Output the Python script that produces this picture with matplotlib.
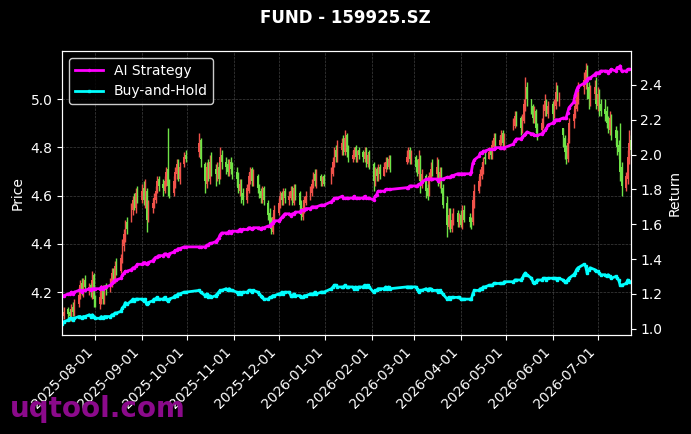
import pandas as pd
import numpy as np
import matplotlib
matplotlib.use('Agg')
import matplotlib.pyplot as plt
import matplotlib.dates as mdates

# trading days (China market holidays removed)
holidays = ['2025-10-01', '2025-10-02', '2025-10-03', '2025-10-06', '2025-10-07', '2025-10-08',
            '2026-01-01', '2026-01-02', '2026-02-16', '2026-02-17', '2026-02-18', '2026-02-19',
            '2026-02-20', '2026-02-23', '2026-04-06', '2026-05-01', '2026-05-04', '2026-05-05',
            '2026-06-19']
dias = pd.bdate_range('2025-07-10', '2026-07-23')
dias = dias[~dias.isin(pd.to_datetime(holidays))]

abertura = [
    4.13, 4.10, 4.13, 4.12, 4.09, 4.14, 4.11, 4.15, 4.18, 4.24, 4.20, 4.25, 4.21, 4.23, 4.19, 4.27,
    4.18, 4.15, 4.17, 4.22, 4.16, 4.23, 4.21, 4.23, 4.29, 4.25, 4.32, 4.29, 4.33, 4.39, 4.43, 4.49, 4.50, 4.54, 4.59, 4.55, 4.62,
    4.58, 4.63, 4.57, 4.62, 4.51, 4.55, 4.58, 4.58, 4.62, 4.67, 4.65, 4.62, 4.66, 4.71, 4.65, 4.61, 4.65, 4.69, 4.74, 4.67, 4.73, 4.77,
    4.78, 4.83, 4.73, 4.65, 4.73, 4.67, 4.75, 4.71, 4.68, 4.72, 4.68, 4.77, 4.74, 4.73, 4.69, 4.74, 4.72,
    4.70, 4.68, 4.62, 4.66, 4.61, 4.58, 4.62, 4.67, 4.71, 4.65, 4.68, 4.64, 4.62, 4.58, 4.63, 4.57, 4.53, 4.49, 4.45, 4.50,
    4.53, 4.56, 4.61, 4.57, 4.62, 4.58, 4.59, 4.63, 4.57, 4.64, 4.61, 4.57, 4.51, 4.54, 4.57, 4.59, 4.61, 4.64, 4.69, 4.65, 4.68, 4.65, 4.68,
    4.66, 4.69, 4.73, 4.79, 4.75, 4.79, 4.83, 4.78, 4.85, 4.79, 4.75, 4.76, 4.80, 4.75, 4.79, 4.78, 4.75, 4.79, 4.73, 4.78,
    4.73, 4.65, 4.71, 4.67, 4.72, 4.68, 4.71, 4.75, 4.72, 4.76, 4.74, 4.75, 4.79, 4.74,
    4.76, 4.73, 4.69, 4.76, 4.65, 4.68, 4.63, 4.61, 4.67, 4.72, 4.69, 4.73, 4.65, 4.71, 4.63, 4.57, 4.47, 4.53, 4.46, 4.49, 4.53, 4.48,
    4.52, 4.47, 4.54, 4.51, 4.50, 4.49, 4.57, 4.62, 4.65, 4.68, 4.71, 4.76, 4.75, 4.79, 4.76, 4.80, 4.85, 4.81, 4.82, 4.86, 4.81,
    4.88, 4.89, 4.94, 4.92, 4.87, 4.91, 4.97, 5.05, 5.00, 4.97, 4.91, 4.95, 4.89, 4.87, 4.89, 4.95, 4.99, 4.94,
    4.98, 4.93, 4.97, 5.04, 5.00, 4.88, 4.84, 4.79, 4.75, 4.83, 4.91, 4.93, 4.96, 5.03, 5.05, 5.07, 5.13, 5.05, 4.99, 5.02, 5.06,
    4.97, 5.03, 4.98, 4.96, 4.95, 4.91, 4.87, 4.93, 4.87, 4.85, 4.81, 4.79, 4.72, 4.63, 4.67, 4.75, 4.83]

maxima = [
    4.14, 4.14, 4.14, 4.13, 4.15, 4.16, 4.17, 4.22, 4.25, 4.26, 4.26, 4.27, 4.24, 4.24, 4.29, 4.28,
    4.19, 4.20, 4.23, 4.23, 4.23, 4.24, 4.26, 4.30, 4.30, 4.33, 4.34, 4.36, 4.42, 4.46, 4.50, 4.51, 4.57, 4.60, 4.61, 4.63, 4.64,
    4.65, 4.66, 4.67, 4.63, 4.58, 4.59, 4.61, 4.64, 4.68, 4.68, 4.67, 4.68, 4.72, 4.88, 4.67, 4.68, 4.72, 4.75, 4.75, 4.74, 4.78, 4.79,
    4.86, 4.84, 4.74, 4.74, 4.75, 4.77, 4.78, 4.73, 4.74, 4.74, 4.80, 4.79, 4.76, 4.75, 4.75, 4.76, 4.74,
    4.72, 4.70, 4.67, 4.67, 4.63, 4.65, 4.70, 4.72, 4.72, 4.71, 4.69, 4.65, 4.63, 4.64, 4.64, 4.58, 4.55, 4.51, 4.53, 4.56,
    4.59, 4.62, 4.62, 4.63, 4.63, 4.62, 4.64, 4.64, 4.65, 4.65, 4.62, 4.58, 4.56, 4.60, 4.62, 4.64, 4.67, 4.70, 4.71, 4.71, 4.69, 4.68, 4.69,
    4.72, 4.76, 4.80, 4.81, 4.83, 4.84, 4.85, 4.87, 4.86, 4.81, 4.79, 4.80, 4.81, 4.79, 4.80, 4.79, 4.80, 4.80, 4.78, 4.79,
    4.74, 4.72, 4.72, 4.73, 4.73, 4.74, 4.76, 4.76, 4.77, 4.77, 4.79, 4.80, 4.80, 4.79,
    4.77, 4.75, 4.79, 4.77, 4.71, 4.69, 4.65, 4.70, 4.74, 4.75, 4.76, 4.75, 4.72, 4.72, 4.65, 4.60, 4.55, 4.55, 4.53, 4.55, 4.54, 4.53,
    4.54, 4.56, 4.56, 4.53, 4.51, 4.60, 4.65, 4.68, 4.71, 4.74, 4.76, 4.78, 4.80, 4.80, 4.83, 4.86, 4.86, 4.85, 4.87, 4.87, 4.86,
    4.92, 4.95, 4.95, 4.93, 4.94, 5.00, 5.09, 5.07, 5.00, 4.98, 4.97, 4.96, 4.90, 4.92, 4.98, 5.02, 5.00, 4.99,
    4.99, 5.00, 5.07, 5.06, 5.03, 4.88, 4.85, 4.81, 4.84, 4.92, 4.96, 5.00, 5.05, 5.07, 5.11, 5.15, 5.14, 5.07, 5.06, 5.08, 5.09,
    5.05, 5.04, 5.00, 5.00, 4.97, 4.93, 4.95, 4.94, 4.89, 4.87, 4.83, 4.90, 4.74, 4.70, 4.79, 4.87, 4.85]

minima = [
    4.09, 4.09, 4.09, 4.08, 4.08, 4.10, 4.10, 4.14, 4.17, 4.19, 4.18, 4.20, 4.19, 4.18, 4.17, 4.14,
    4.14, 4.13, 4.15, 4.15, 4.15, 4.19, 4.20, 4.22, 4.24, 4.24, 4.27, 4.28, 4.32, 4.37, 4.41, 4.44, 4.49, 4.52, 4.54, 4.53, 4.57,
    4.57, 4.56, 4.55, 4.45, 4.49, 4.53, 4.55, 4.57, 4.61, 4.62, 4.60, 4.61, 4.64, 4.60, 4.59, 4.60, 4.63, 4.67, 4.66, 4.65, 4.72, 4.74,
    4.76, 4.72, 4.61, 4.63, 4.66, 4.65, 4.68, 4.64, 4.66, 4.65, 4.67, 4.71, 4.69, 4.68, 4.68, 4.69, 4.67,
    4.64, 4.61, 4.60, 4.57, 4.56, 4.57, 4.61, 4.65, 4.64, 4.64, 4.61, 4.59, 4.57, 4.57, 4.56, 4.50, 4.47, 4.44, 4.44, 4.49,
    4.52, 4.55, 4.56, 4.56, 4.57, 4.56, 4.58, 4.56, 4.56, 4.58, 4.54, 4.50, 4.50, 4.53, 4.56, 4.58, 4.60, 4.63, 4.64, 4.63, 4.64, 4.64, 4.64,
    4.65, 4.68, 4.72, 4.74, 4.74, 4.77, 4.77, 4.77, 4.76, 4.74, 4.74, 4.75, 4.74, 4.74, 4.75, 4.74, 4.74, 4.72, 4.72, 4.71,
    4.62, 4.64, 4.66, 4.66, 4.67, 4.68, 4.70, 4.71, 4.71, 4.70, 4.73, 4.74, 4.73, 4.73,
    4.70, 4.68, 4.67, 4.61, 4.63, 4.59, 4.58, 4.60, 4.66, 4.68, 4.67, 4.64, 4.63, 4.61, 4.55, 4.43, 4.46, 4.45, 4.45, 4.48, 4.47, 4.47,
    4.47, 4.46, 4.49, 4.47, 4.46, 4.48, 4.55, 4.61, 4.64, 4.67, 4.69, 4.73, 4.75, 4.75, 4.75, 4.79, 4.80, 4.80, 4.81, 4.80, 4.79,
    4.87, 4.88, 4.89, 4.85, 4.86, 4.90, 4.95, 4.97, 4.94, 4.90, 4.90, 4.86, 4.83, 4.85, 4.88, 4.93, 4.93, 4.92,
    4.91, 4.92, 4.96, 4.99, 4.97, 4.80, 4.75, 4.73, 4.74, 4.82, 4.88, 4.92, 4.95, 4.98, 5.02, 5.04, 5.00, 4.96, 4.97, 5.00, 4.96,
    4.95, 4.93, 4.93, 4.91, 4.88, 4.86, 4.85, 4.83, 4.81, 4.77, 4.75, 4.66, 4.60, 4.62, 4.65, 4.73, 4.77]

fechamento = [
    4.11, 4.12, 4.11, 4.10, 4.13, 4.12, 4.15, 4.19, 4.23, 4.21, 4.24, 4.22, 4.22, 4.20, 4.25, 4.17,
    4.16, 4.18, 4.21, 4.17, 4.22, 4.21, 4.24, 4.28, 4.26, 4.31, 4.29, 4.34, 4.40, 4.44, 4.48, 4.46, 4.55, 4.58, 4.56, 4.61, 4.59,
    4.62, 4.58, 4.63, 4.50, 4.56, 4.57, 4.59, 4.62, 4.66, 4.64, 4.63, 4.66, 4.70, 4.64, 4.62, 4.66, 4.70, 4.73, 4.68, 4.72, 4.76, 4.75,
    4.82, 4.75, 4.66, 4.72, 4.68, 4.74, 4.70, 4.69, 4.71, 4.67, 4.76, 4.74, 4.72, 4.70, 4.73, 4.71, 4.69,
    4.67, 4.63, 4.65, 4.60, 4.58, 4.63, 4.68, 4.70, 4.66, 4.69, 4.63, 4.61, 4.59, 4.62, 4.58, 4.52, 4.48, 4.46, 4.51, 4.54,
    4.57, 4.60, 4.58, 4.61, 4.59, 4.60, 4.62, 4.58, 4.63, 4.60, 4.56, 4.52, 4.55, 4.58, 4.60, 4.62, 4.65, 4.68, 4.66, 4.69, 4.66, 4.67, 4.65,
    4.70, 4.74, 4.78, 4.76, 4.80, 4.82, 4.79, 4.84, 4.78, 4.76, 4.77, 4.79, 4.76, 4.78, 4.77, 4.76, 4.78, 4.74, 4.77, 4.75,
    4.66, 4.70, 4.68, 4.71, 4.69, 4.72, 4.74, 4.73, 4.75, 4.72, 4.76, 4.78, 4.75, 4.77,
    4.72, 4.70, 4.75, 4.66, 4.69, 4.62, 4.60, 4.68, 4.71, 4.70, 4.72, 4.66, 4.70, 4.64, 4.56, 4.48, 4.52, 4.47, 4.50, 4.52, 4.49, 4.51,
    4.48, 4.53, 4.50, 4.49, 4.48, 4.58, 4.62, 4.66, 4.69, 4.72, 4.74, 4.75, 4.78, 4.77, 4.81, 4.84, 4.82, 4.83, 4.85, 4.82, 4.84,
    4.90, 4.93, 4.91, 4.88, 4.92, 4.98, 5.04, 5.00, 4.96, 4.92, 4.95, 4.88, 4.86, 4.90, 4.96, 4.99, 4.95, 4.97,
    4.94, 4.98, 5.03, 5.01, 5.00, 4.85, 4.78, 4.76, 4.82, 4.90, 4.94, 4.97, 5.02, 5.04, 5.08, 5.12, 5.04, 5.00, 5.03, 5.05, 4.98,
    5.02, 4.97, 4.95, 4.94, 4.90, 4.88, 4.92, 4.86, 4.84, 4.80, 4.78, 4.70, 4.64, 4.68, 4.76, 4.82, 4.79]

ai_strategy = [
    1.19, 1.19, 1.20, 1.20, 1.21, 1.20, 1.21, 1.22, 1.22, 1.21, 1.22, 1.22, 1.23, 1.22, 1.23, 1.23,
    1.23, 1.23, 1.24, 1.23, 1.24, 1.24, 1.25, 1.26, 1.27, 1.28, 1.28, 1.29, 1.31, 1.32, 1.33, 1.33, 1.34, 1.35, 1.35, 1.36, 1.37,
    1.37, 1.38, 1.38, 1.37, 1.38, 1.39, 1.40, 1.41, 1.41, 1.42, 1.42, 1.43, 1.43, 1.42, 1.43, 1.44, 1.45, 1.45, 1.46, 1.46, 1.47, 1.47,
    1.47, 1.47, 1.47, 1.48, 1.48, 1.49, 1.49, 1.50, 1.51, 1.52, 1.54, 1.55, 1.55, 1.55, 1.56, 1.55, 1.56,
    1.56, 1.56, 1.57, 1.56, 1.57, 1.57, 1.58, 1.58, 1.57, 1.58, 1.58, 1.58, 1.57, 1.58, 1.58, 1.59, 1.59, 1.60, 1.61, 1.62,
    1.62, 1.63, 1.64, 1.65, 1.66, 1.66, 1.65, 1.66, 1.66, 1.67, 1.67, 1.68, 1.68, 1.68, 1.69, 1.69, 1.70, 1.70, 1.70, 1.70, 1.71, 1.71, 1.71,
    1.73, 1.74, 1.75, 1.75, 1.75, 1.76, 1.75, 1.75, 1.75, 1.75, 1.75, 1.76, 1.75, 1.75, 1.75, 1.75, 1.76, 1.75, 1.75, 1.75,
    1.74, 1.76, 1.77, 1.79, 1.79, 1.79, 1.80, 1.80, 1.80, 1.80, 1.81, 1.81, 1.82, 1.82,
    1.82, 1.82, 1.83, 1.83, 1.84, 1.86, 1.86, 1.86, 1.86, 1.86, 1.86, 1.85, 1.86, 1.86, 1.86, 1.87, 1.87, 1.87, 1.88, 1.88, 1.89, 1.89,
    1.89, 1.89, 1.89, 1.89, 1.90, 1.95, 1.97, 1.99, 2.01, 2.01, 2.02, 2.02, 2.03, 2.03, 2.03, 2.03, 2.04, 2.04, 2.04, 2.04, 2.04,
    2.06, 2.08, 2.09, 2.09, 2.10, 2.11, 2.12, 2.13, 2.12, 2.12, 2.11, 2.11, 2.11, 2.12, 2.13, 2.14, 2.15, 2.17,
    2.18, 2.19, 2.20, 2.20, 2.20, 2.21, 2.21, 2.21, 2.24, 2.27, 2.30, 2.34, 2.37, 2.39, 2.41, 2.42, 2.43, 2.44, 2.44, 2.46, 2.47,
    2.47, 2.47, 2.48, 2.48, 2.48, 2.47, 2.48, 2.49, 2.48, 2.50, 2.50, 2.51, 2.48, 2.48, 2.49, 2.49, 2.49]

buy_hold = [
    1.03, 1.04, 1.05, 1.06, 1.06, 1.05, 1.06, 1.07, 1.07, 1.06, 1.07, 1.07, 1.08, 1.07, 1.08, 1.07,
    1.06, 1.06, 1.07, 1.06, 1.07, 1.07, 1.07, 1.08, 1.08, 1.09, 1.09, 1.10, 1.12, 1.13, 1.15, 1.14, 1.16, 1.17, 1.16, 1.17, 1.17,
    1.17, 1.16, 1.17, 1.14, 1.15, 1.16, 1.17, 1.17, 1.18, 1.17, 1.17, 1.18, 1.17, 1.16, 1.17, 1.18, 1.19, 1.19, 1.20, 1.20, 1.21, 1.21,
    1.22, 1.21, 1.19, 1.20, 1.18, 1.19, 1.18, 1.19, 1.20, 1.21, 1.22, 1.22, 1.23, 1.22, 1.23, 1.22, 1.22,
    1.21, 1.20, 1.21, 1.20, 1.21, 1.21, 1.22, 1.22, 1.21, 1.22, 1.21, 1.20, 1.19, 1.18, 1.17, 1.17, 1.18, 1.18, 1.19, 1.19,
    1.20, 1.20, 1.21, 1.20, 1.21, 1.21, 1.19, 1.19, 1.20, 1.19, 1.19, 1.18, 1.18, 1.19, 1.19, 1.20, 1.20, 1.20, 1.21, 1.20, 1.21, 1.21, 1.21,
    1.23, 1.24, 1.25, 1.25, 1.24, 1.24, 1.24, 1.25, 1.24, 1.24, 1.24, 1.23, 1.24, 1.23, 1.24, 1.24, 1.25, 1.24, 1.25, 1.24,
    1.21, 1.22, 1.22, 1.23, 1.23, 1.23, 1.24, 1.23, 1.24, 1.23, 1.24, 1.24, 1.24, 1.24,
    1.24, 1.23, 1.21, 1.22, 1.22, 1.23, 1.22, 1.23, 1.23, 1.22, 1.22, 1.21, 1.22, 1.21, 1.20, 1.17, 1.18, 1.17, 1.18, 1.18, 1.18, 1.18,
    1.17, 1.17, 1.17, 1.17, 1.17, 1.20, 1.22, 1.22, 1.23, 1.23, 1.24, 1.24, 1.25, 1.25, 1.25, 1.26, 1.26, 1.26, 1.26, 1.26, 1.27,
    1.27, 1.28, 1.28, 1.28, 1.29, 1.31, 1.32, 1.31, 1.29, 1.27, 1.26, 1.27, 1.28, 1.28, 1.29, 1.29, 1.28, 1.29,
    1.29, 1.29, 1.29, 1.28, 1.29, 1.28, 1.27, 1.27, 1.28, 1.29, 1.31, 1.32, 1.34, 1.35, 1.37, 1.36, 1.32, 1.34, 1.35, 1.34, 1.33,
    1.33, 1.32, 1.31, 1.31, 1.30, 1.31, 1.30, 1.29, 1.30, 1.29, 1.28, 1.25, 1.25, 1.26, 1.28, 1.27, 1.27]

titulo = 'FUND - 159925.SZ'

abertura = np.array(abertura)
fechamento = np.array(fechamento)
sobe = fechamento >= abertura
cores = np.where(sobe, '#f0524a', '#6fe347')

fig = plt.figure(figsize=(6.91, 4.34), dpi=100, facecolor='black')
ax = fig.add_axes([62.3 / 691, 99 / 434, 568.4 / 691, 284 / 434])
ax.set_facecolor('black')

# candles
ax.vlines(dias, minima, maxima, colors=cores, linewidth=1.0)
ax.bar(dias, fechamento - abertura, bottom=abertura, width=1.2, color=cores, linewidth=0)

ax.set_ylim(4.023, 5.199)
ax.set_xlim(dias[0], dias[-1])
ax.set_ylabel('Price', color='white')
ax.grid(True, color='gray', linestyle='--', linewidth=0.5, alpha=0.5)
ax.xaxis.set_major_locator(mdates.MonthLocator())
ax.xaxis.set_major_formatter(mdates.DateFormatter('%Y-%m-%d'))
plt.setp(ax.get_xticklabels(), rotation=45, ha='right')

ax2 = ax.twinx()
ax2.plot(dias, ai_strategy, color='magenta', marker='.', markersize=3, linewidth=2, label='AI Strategy')
ax2.plot(dias, buy_hold, color='cyan', marker='s', markersize=2, linewidth=2, label='Buy-and-Hold')
ax2.set_ylim(0.964, 2.595)
ax2.set_ylabel('Return', color='white')

for a in (ax, ax2):
    a.tick_params(colors='white')
    for s in a.spines.values():
        s.set_color('white')

leg = ax2.legend(loc='upper left', facecolor='black', edgecolor='white', labelcolor='white')

fig.text(0.5, 1 - 18 / 434, titulo, color='white', fontsize=12, fontweight='bold', ha='center', va='center')
fig.text(10 / 691, 17 / 434, 'uqtool.com', color='#8b0a8b', fontsize=20, fontweight='bold', va='baseline')

plt.savefig('out.png', dpi=100, facecolor='black')
